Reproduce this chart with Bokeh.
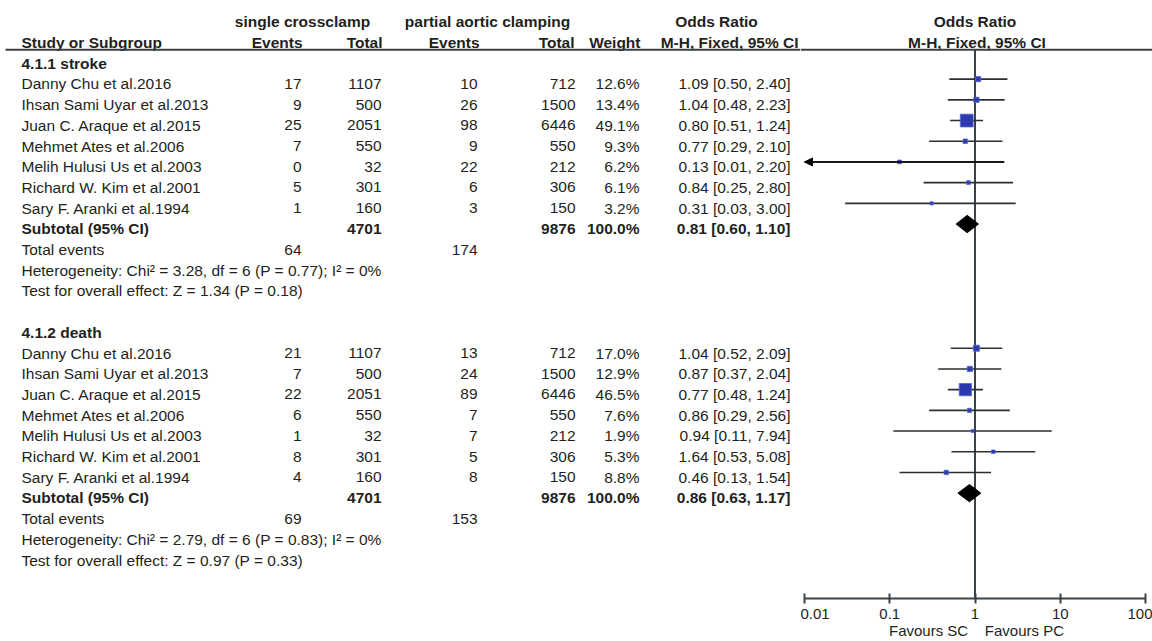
from bokeh.plotting import figure
from bokeh.layouts import row
from bokeh.models import (Range1d, ColumnDataSource, FixedTicker,
                          CustomJSTickFormatter, Arrow, NormalHead)
from bokeh.core.properties import value
from bokeh.embed import file_html
from bokeh.resources import INLINE

# ---- study data -----------------------------------------------------------
studies = ["Danny Chu et al.2016", "Ihsan Sami Uyar et al.2013",
           "Juan C. Araque et al.2015", "Mehmet Ates et al.2006",
           "Melih Hulusi Us et al.2003", "Richard W. Kim et al.2001",
           "Sary F. Aranki et al.1994"]
sc_total = [1107, 500, 2051, 550, 32, 301, 160]
pc_total = [712, 1500, 6446, 550, 212, 306, 150]

# 4.1.1 stroke
stroke_sc_events = [17, 9, 25, 7, 0, 5, 1]
stroke_pc_events = [10, 26, 98, 9, 22, 6, 3]
stroke_weight = [12.6, 13.4, 49.1, 9.3, 6.2, 6.1, 3.2]
stroke_or = [1.09, 1.04, 0.80, 0.77, 0.13, 0.84, 0.31]
stroke_lo = [0.50, 0.48, 0.51, 0.29, 0.01, 0.25, 0.03]
stroke_hi = [2.40, 2.23, 1.24, 2.10, 2.20, 2.80, 3.00]

# 4.1.2 death
death_sc_events = [21, 7, 22, 6, 1, 8, 4]
death_pc_events = [13, 24, 89, 7, 7, 5, 8]
death_weight = [17.0, 12.9, 46.5, 7.6, 1.9, 5.3, 8.8]
death_or = [1.04, 0.87, 0.77, 0.86, 0.94, 1.64, 0.46]
death_lo = [0.52, 0.37, 0.48, 0.29, 0.11, 0.53, 0.13]
death_hi = [2.09, 2.04, 1.24, 2.56, 7.94, 5.08, 1.54]

# pooled (M-H fixed) estimates, stroke then death
pooled_or = [0.81, 0.86]
pooled_lo = [0.60, 0.63]
pooled_hi = [1.10, 1.17]
heterogeneity = ["Heterogeneity: Chi\u00b2 = 3.28, df = 6 (P = 0.77); I\u00b2 = 0%",
                 "Heterogeneity: Chi\u00b2 = 2.79, df = 6 (P = 0.83); I\u00b2 = 0%"]
overall_test = ["Test for overall effect: Z = 1.34 (P = 0.18)",
                "Test for overall effect: Z = 0.97 (P = 0.33)"]
subgroups = ["4.1.1 stroke", "4.1.2 death"]

axis_ticks = [0.01, 0.1, 1, 10, 100]

# ---- styling / layout -----------------------------------------------------
FONT = value("Liberation Sans")
FS = "15.5px"
TXT = "#231f20"
INK = "#3a4247"
SQ_FILL = "#2b3aae"
SQ_LINE = "#5866cc"

ROW_PX = 20.7          # pixel height of one table row
TOP_PX = 62.7          # pixel position of row 0
LEFT_W, RIGHT_W = 800, 352
PANEL_H = 598          # height of both panels down to the axis line
MARK_DY = -0.23        # forest marks sit slightly above the text centre
RULE_Y = -0.65         # header rule

# column anchors (pixels in the table panel)
NAME_X, SC_EV_X, SC_TOT_X, PC_EV_X, PC_TOT_X, W_X, OR_X = 21, 301, 381, 477, 575, 639, 790


def row_range():
    return Range1d(start=(PANEL_H - TOP_PX) / ROW_PX, end=-TOP_PX / ROW_PX)


def put(fig, xs, ys, texts, align, bold=False, x_offset=0):
    src = ColumnDataSource(dict(x=xs, y=ys, t=texts))
    fig.text("x", "y", text="t", source=src, text_align=align,
             text_baseline="middle", text_font=FONT, text_font_size=FS,
             text_color=TXT, text_font_style="bold" if bold else "normal",
             x_offset=x_offset)


def ci_text(o, l, h):
    return f"{o:.2f} [{l:.2f}, {h:.2f}]"


# ---- table panel ----------------------------------------------------------
left = figure(frame_width=LEFT_W, frame_height=PANEL_H, x_range=Range1d(0, LEFT_W),
              y_range=row_range(), output_backend="svg",
              toolbar_location=None, x_axis_type=None, y_axis_type=None,
              min_border=0, outline_line_color=None)

# header rows
put(left, [302, 487, 716], [-2, -2, -2],
    ["single crossclamp", "partial aortic clamping", "Odds Ratio"], "center", bold=True)
put(left, [NAME_X], [-1], ["Study or Subgroup"], "left", bold=True)
put(left, [302, 382, 479, 574, 640, 798], [-1] * 6,
    ["Events", "Total", "Events", "Total", "Weight", "M-H, Fixed, 95% CI"],
    "right", bold=True)
left.segment(x0=[5], x1=[LEFT_W], y0=[RULE_Y], y1=[RULE_Y],
             line_color=INK, line_width=2)

# ---- forest panel ---------------------------------------------------------
right = figure(frame_width=RIGHT_W, frame_height=PANEL_H, x_axis_type="log",
               x_range=Range1d(10 ** (-2 - 4 / 85.25), 10 ** (2 + 7 / 85.25)),
               y_range=row_range(), output_backend="svg",
               toolbar_location=None, y_axis_type=None, min_border=0,
               outline_line_color=None)
right.xgrid.visible = False
right.ygrid.visible = False

put(right, [1], [-2], ["Odds Ratio"], "center", bold=True)
put(right, [1], [-1], ["M-H, Fixed, 95% CI"], "center", bold=True, x_offset=2)
right.segment(x0=[right.x_range.start], x1=[right.x_range.end],
              y0=[RULE_Y], y1=[RULE_Y], line_color=INK, line_width=2)
# line of no effect
right.segment(x0=[1], x1=[1], y0=[RULE_Y], y1=[right.y_range.start],
              line_color=INK, line_width=2)

sections = [
    (0, stroke_sc_events, stroke_pc_events, stroke_weight, stroke_or, stroke_lo, stroke_hi),
    (13, death_sc_events, death_pc_events, death_weight, death_or, death_lo, death_hi),
]

for k, (base, sc_ev, pc_ev, wt, o, lo, hi) in enumerate(sections):
    ys = [base + 1 + i for i in range(len(studies))]
    put(left, [NAME_X], [base], [subgroups[k]], "left", bold=True)
    put(left, [NAME_X] * len(ys), ys, studies, "left")
    put(left, [SC_EV_X] * len(ys), ys, [str(v) for v in sc_ev], "right")
    put(left, [SC_TOT_X] * len(ys), ys, [str(v) for v in sc_total], "right")
    put(left, [PC_EV_X] * len(ys), ys, [str(v) for v in pc_ev], "right")
    put(left, [PC_TOT_X] * len(ys), ys, [str(v) for v in pc_total], "right")
    put(left, [W_X] * len(ys), ys, [f"{w:.1f}%" for w in wt], "right")
    put(left, [OR_X] * len(ys), ys,
        [ci_text(a, b, c) for a, b, c in zip(o, lo, hi)], "right")

    sub_y = base + 8
    put(left, [NAME_X], [sub_y], ["Subtotal (95% CI)"], "left", bold=True)
    put(left, [SC_TOT_X, PC_TOT_X, W_X, OR_X], [sub_y] * 4,
        [str(sum(sc_total)), str(sum(pc_total)), "100.0%",
         ci_text(pooled_or[k], pooled_lo[k], pooled_hi[k])], "right", bold=True)
    put(left, [NAME_X], [base + 9], ["Total events"], "left")
    put(left, [SC_EV_X, PC_EV_X], [base + 9] * 2,
        [str(sum(sc_ev)), str(sum(pc_ev))], "right")
    put(left, [NAME_X], [base + 10], [heterogeneity[k]], "left")
    put(left, [NAME_X], [base + 11], [overall_test[k]], "left")

    # study intervals and weighted squares
    my = [y + MARK_DY for y in ys]
    src = ColumnDataSource(dict(y=my, o=o, lo=lo, hi=hi,
                                size=[2.5 + 0.21 * w for w in wt]))
    right.segment(x0="lo", x1="hi", y0="y", y1="y", source=src,
                  line_color="#2b2f33", line_width=1.6)
    right.scatter("o", "y", size="size", marker="square", source=src,
                  fill_color=SQ_FILL, line_color=SQ_LINE, line_width=0.8)

    # intervals reaching the axis minimum get an arrow at the panel edge
    cut = [i for i, v in enumerate(lo) if v <= axis_ticks[0]]
    if cut:
        asrc = ColumnDataSource(dict(x0=[hi[i] for i in cut],
                                     x1=[axis_ticks[0]] * len(cut),
                                     y=[my[i] for i in cut]))
        right.add_layout(Arrow(source=asrc, x_start="x0", x_end="x1",
                               y_start="y", y_end="y", line_color="black",
                               line_width=1.6,
                               end=NormalHead(size=8, fill_color="black",
                                              line_color="black")))

    # pooled diamond
    dy = sub_y + MARK_DY
    right.patches(xs=[[pooled_lo[k], pooled_or[k], pooled_hi[k], pooled_or[k]]],
                  ys=[[dy, dy - 0.42, dy, dy + 0.42]],
                  fill_color="black", line_color="black")

# ---- axis -----------------------------------------------------------------
ax = right.xaxis[0]
ax.ticker = FixedTicker(ticks=axis_ticks)
ax.formatter = CustomJSTickFormatter(code="return String(tick)")
ax.bounds = (axis_ticks[0], axis_ticks[-1])
ax.major_tick_in = 5
ax.major_tick_out = 5
ax.minor_tick_line_color = None
ax.axis_line_width = 2
ax.axis_line_color = INK
ax.major_tick_line_width = 2
ax.major_tick_line_color = INK
ax.major_label_text_font = "Liberation Sans"
ax.major_label_text_font_size = "15px"
ax.major_label_text_color = TXT
ax.major_label_standoff = 5
ax.axis_label = "Favours SC\u00a0\u00a0\u00a0\u00a0Favours PC"
ax.axis_label_standoff = 0
ax.axis_label_text_font = "Liberation Sans"
ax.axis_label_text_font_size = "15px"
ax.axis_label_text_font_style = "normal"
ax.axis_label_text_color = TXT

layout = row(left, right, spacing=0)
open("out.html", "w").write(file_html(layout, INLINE, title="Forest plot"))
